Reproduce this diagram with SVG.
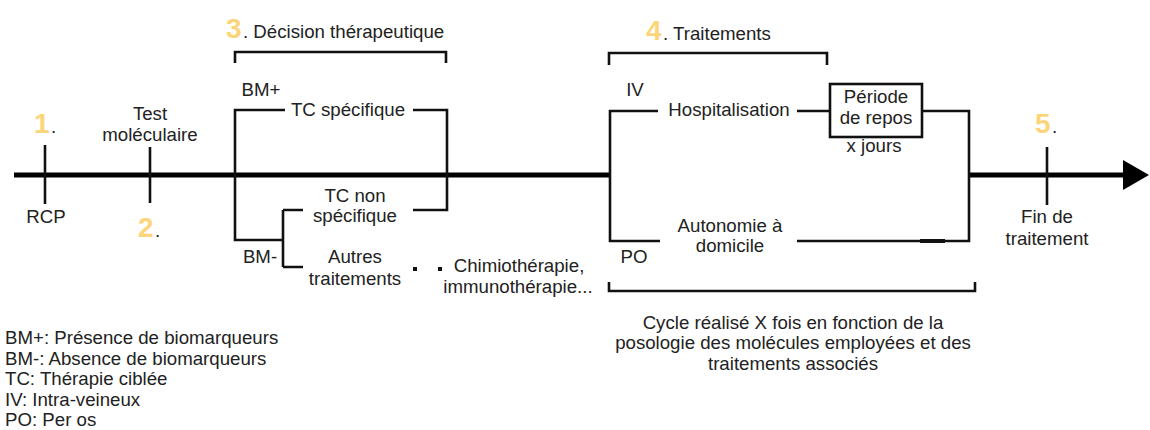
<svg xmlns="http://www.w3.org/2000/svg" width="1150" height="430" viewBox="0 0 1150 430">
<style>
text{font-family:"Liberation Sans",Arial,sans-serif;font-size:18.67px;fill:#222}
.c{text-anchor:middle}
.num{font-size:28px;font-weight:bold;fill:#fcd57a}
.ln{fill:none;stroke:#111;stroke-width:2.6;stroke-linejoin:miter}
.main{fill:none;stroke:#000;stroke-width:5}
</style>
<rect width="1150" height="430" fill="#fff"/>
<g id="connectors">
<path class="main" d="M14 175H447M610 175H447M969 175H1124"/>
<polygon points="1123,160 1149,175 1123,190" fill="#000"/>
<path class="ln" d="M45 145V204M150 147V203M1047 147V205"/>
<path class="ln" d="M285 110H235V240H283M283 210V267M303 210H283M303 267H283M413 110H447V210H413"/>
<path class="ln" d="M235 63V52H446V63M609 65V53H827V65M609 282V291H975V282"/>
<path class="ln" d="M658 111H610V241H660M797 111H830M922 111H969V241H797"/>
<path d="M920 241H945" stroke="#111" stroke-width="4"/>
<rect x="413" y="267" width="4" height="4" fill="#111"/>
<rect x="438" y="267" width="4" height="4" fill="#111"/>
</g>
<g id="step1"><text class="num" x="34" y="133">1</text><text x="51" y="133">.</text><text class="c" x="46" y="223">RCP</text></g>
<g id="step2"><text class="c" x="150" y="120">Test</text><text class="c" x="150" y="141">moléculaire</text><text class="num" x="138" y="237">2</text><text x="155" y="237">.</text></g>
<g id="step3"><text class="num" x="226" y="38">3</text><text x="243" y="38">. Décision thérapeutique</text></g>
<g id="bmplus"><text class="c" x="261" y="96">BM+</text></g>
<g id="tcspec"><text class="c" x="348" y="116">TC spécifique</text></g>
<g id="tcnonspec"><text class="c" x="355" y="202">TC non</text><text class="c" x="355" y="222">spécifique</text></g>
<g id="bmminus"><text class="c" x="260" y="263">BM-</text></g>
<g id="autres"><text class="c" x="355" y="263">Autres</text><text class="c" x="355" y="285">traitements</text></g>
<g id="chimio"><text class="c" x="519" y="272">Chimiothérapie,</text><text class="c" x="518" y="293">immunothérapie...</text></g>
<g id="step4"><text class="num" x="646" y="40">4</text><text x="663" y="40">. Traitements</text></g>
<g id="iv"><text class="c" x="635" y="96">IV</text></g>
<g id="hosp"><text class="c" x="729" y="116">Hospitalisation</text></g>
<g id="repos"><rect x="830" y="84" width="92" height="53" fill="#fff" stroke="#111" stroke-width="2.6"/><text class="c" x="876" y="103">Période</text><text class="c" x="876" y="124">de repos</text><text class="c" x="874" y="152">x jours</text></g>
<g id="autonomie"><text class="c" x="730" y="232">Autonomie à</text><text class="c" x="730" y="252">domicile</text></g>
<g id="po"><text class="c" x="634" y="263">PO</text></g>
<g id="step5"><text class="num" x="1035" y="133">5</text><text x="1052" y="133">.</text><text class="c" x="1047" y="223">Fin de</text><text class="c" x="1047" y="245">traitement</text></g>
<g id="cycle"><text class="c" x="793" y="329">Cycle réalisé X fois en fonction de la</text><text class="c" x="793" y="349">posologie des molécules employées et des</text><text class="c" x="793" y="370">traitements associés</text></g>
<g id="legend"><text x="5" y="344">BM+: Présence de biomarqueurs</text><text x="5" y="364.5">BM-: Absence de biomarqueurs</text><text x="5" y="385">TC: Thérapie ciblée</text><text x="5" y="405.5">IV: Intra-veineux</text><text x="5" y="426">PO: Per os</text></g>
</svg>
